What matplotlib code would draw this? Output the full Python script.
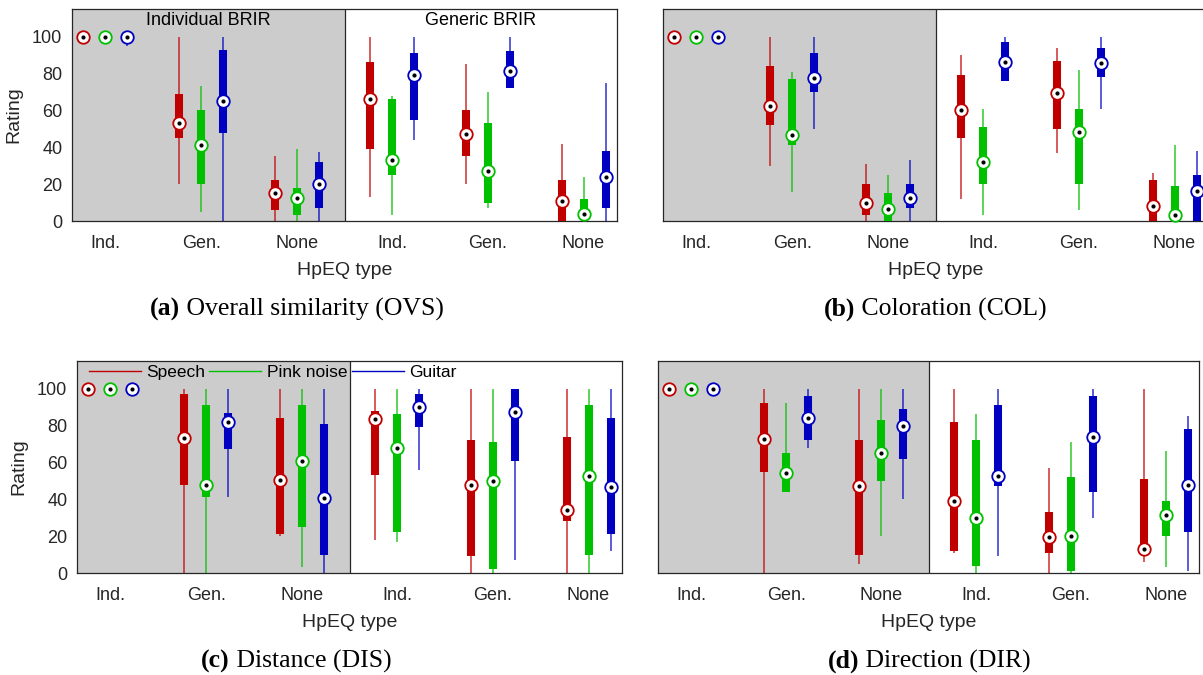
"""
Listening test ratings per HpEQ type, individual vs generic BRIR.
"""

import matplotlib.pyplot as plt
from matplotlib.lines import Line2D
import matplotlib.transforms as mtransforms
import numpy as np

plt.rcParams['font.family'] = ['Liberation Sans', 'DejaVu Sans']

GROUPS = ["Ind.", "Gen.", "None", "Ind.", "Gen.", "None"]
STIMULI = ["Speech", "Pink noise", "Guitar"]
COLORS = ["#c00000", "#00c000", "#0000c0"]
Y_TICKS = [0, 20, 40, 60, 80, 100]

# one row per group: (whisker low, q1, median, q3, whisker high)
# first three groups = individual BRIR, last three = generic BRIR
OVS_SPEECH = [(100, 100, 100, 100, 100), (20, 45, 53, 69, 100), (0, 6, 15, 22, 35),
              (13, 39, 66, 86, 100), (20, 35, 47, 60, 85), (0, 0, 11, 22, 42)]
OVS_PINK = [(100, 100, 100, 100, 100), (5, 20, 41, 60, 73), (0, 3, 12.5, 18, 39),
            (3, 25, 33, 66, 68), (7, 10, 27, 53, 70), (0, 1, 4, 12, 24)]
OVS_GUITAR = [(95, 97, 100, 100, 100), (0, 48, 65, 93, 100), (0, 7, 20, 32, 37.5),
              (44, 55, 79, 91, 100), (72, 72, 81.5, 92, 100), (0, 7, 24, 38, 75)]

COL_SPEECH = [(100, 100, 100, 100, 100), (30, 52, 62.5, 84, 100), (0, 3, 9.5, 20, 31),
              (12, 45, 60, 79, 90), (37, 50, 69.5, 87, 94), (0, 0, 8, 22, 26)]
COL_PINK = [(100, 100, 100, 100, 100), (16, 41, 46.5, 77, 81), (0, 0, 6.5, 15, 25),
            (3, 20, 32, 51, 61), (6, 20, 48.5, 61, 82), (0, 0, 3, 19, 41)]
COL_GUITAR = [(100, 100, 100, 100, 100), (50, 70, 77.5, 91, 100), (0, 7, 12.5, 20, 33),
              (76, 76, 86, 97, 100), (61, 78, 85.5, 94, 100), (0, 0, 16.5, 25, 38)]

DIS_SPEECH = [(100, 100, 100, 100, 100), (0, 48, 73, 97, 100), (20, 21, 50.5, 84, 100),
              (18, 53, 83.5, 88, 100), (0, 9, 47.5, 72, 100), (0, 28, 34, 74, 100)]
DIS_PINK = [(100, 100, 100, 100, 100), (0, 41, 47.5, 91, 100), (3, 25, 61, 91, 100),
            (17, 22, 68, 86, 100), (0, 2, 50, 71, 100), (0, 10, 52.5, 91, 100)]
DIS_GUITAR = [(100, 100, 100, 100, 100), (41, 67, 82, 87, 100), (0, 10, 40.5, 81, 100),
              (56, 79, 90, 97, 100), (7, 61, 87.5, 100, 100), (12, 21, 46.5, 84, 100)]

DIR_SPEECH = [(100, 100, 100, 100, 100), (0, 55, 72.5, 92, 100), (5, 10, 47, 72, 100),
              (11, 12, 39, 82, 100), (0, 11, 19.5, 33, 57), (6, 10, 13, 51, 100)]
DIR_PINK = [(100, 100, 100, 100, 100), (44, 44, 54.5, 65, 92), (20, 50, 65, 83, 100),
            (0, 4, 30, 72, 86), (0, 1, 20, 52, 71), (3, 20, 31.5, 39, 66)]
DIR_GUITAR = [(100, 100, 100, 100, 100), (68, 72, 84, 96, 100), (40, 62, 80, 89, 100),
              (9, 47, 52.5, 91, 100), (30, 44, 74, 96, 100), (1, 22, 48, 78, 85)]

X_LIM = (0.65, 6.35)
Y_LIM = (0, 115)
SPLIT = 3.5
OFFSET = 0.23
TEXT_COLOR = "#262626"


def draw_panel(ax, series_list, show_y):
    ax.set_facecolor("white")
    ax.axvspan(X_LIM[0], SPLIT, color="#cccccc", zorder=0, lw=0)
    ax.axvline(SPLIT, color=TEXT_COLOR, lw=0.9, zorder=1)

    x = np.arange(1, len(GROUPS) + 1)
    for k, (series, color) in enumerate(zip(series_list, COLORS)):
        s = np.array(series, dtype=float)
        xs = x + (k - 1) * OFFSET
        ax.vlines(xs, s[:, 0], s[:, 4], color=color, lw=1.2, alpha=0.75, zorder=2)
        ax.vlines(xs, s[:, 1], s[:, 3], color=color, lw=5.8, capstyle="butt", zorder=3)
        ax.plot(xs, s[:, 2], "o", ms=9, mfc="white", mec=color, mew=1.3, zorder=4,
                clip_on=False)
        ax.plot(xs, s[:, 2], "o", ms=3, color="black", mew=0, zorder=5, clip_on=False)

    ax.set_xlim(*X_LIM)
    ax.set_ylim(*Y_LIM)
    ax.set_xticks(x)
    ax.set_xticklabels(GROUPS)
    ax.set_yticks(Y_TICKS)
    ax.tick_params(axis="x", length=0, labelsize=13, colors=TEXT_COLOR, pad=10)
    ax.tick_params(axis="y", length=0, labelsize=13, colors=TEXT_COLOR, pad=7)
    ax.set_xlabel("HpEQ type", fontsize=14, color=TEXT_COLOR, labelpad=7)
    if show_y:
        ax.set_ylabel("Rating", fontsize=14, color=TEXT_COLOR, labelpad=7)
    else:
        ax.tick_params(labelleft=False)
    for sp in ax.spines.values():
        sp.set_color(TEXT_COLOR)
        sp.set_linewidth(0.9)


def add_caption(fig, xc, y, tag, text):
    t1 = fig.text(0, y, tag, fontsize=18.5, fontweight="bold", va="center",
                  family=["Liberation Serif", "DejaVu Serif"])
    t2 = fig.text(0, y, " " + text, fontsize=18.5, va="center",
                  family=["Liberation Serif", "DejaVu Serif"])
    r = fig.canvas.get_renderer()
    w1 = t1.get_window_extent(r).width / fig.bbox.width
    w2 = t2.get_window_extent(r).width / fig.bbox.width
    left = xc - (w1 + w2) / 2
    t1.set_x(left)
    t2.set_x(left + w1)


fig = plt.figure(figsize=(12.03, 6.75), dpi=100)
h = 212 / 675
ax_a = fig.add_axes([72 / 1203, 1 - 221 / 675, 545 / 1203, h])
ax_b = fig.add_axes([663 / 1203, 1 - 221 / 675, 545 / 1203, h])
ax_c = fig.add_axes([77 / 1203, 1 - 573 / 675, 545 / 1203, h])
ax_d = fig.add_axes([658 / 1203, 1 - 573 / 675, 541 / 1203, h])

draw_panel(ax_a, [OVS_SPEECH, OVS_PINK, OVS_GUITAR], True)
draw_panel(ax_b, [COL_SPEECH, COL_PINK, COL_GUITAR], False)
draw_panel(ax_c, [DIS_SPEECH, DIS_PINK, DIS_GUITAR], True)
draw_panel(ax_d, [DIR_SPEECH, DIR_PINK, DIR_GUITAR], False)

# Half titles in panel (a).
trans = mtransforms.blended_transform_factory(ax_a.transData, ax_a.transAxes)
ax_a.text((X_LIM[0] + SPLIT) / 2, 0.985, "Individual BRIR", transform=trans,
          ha="center", va="top", fontsize=13, color="black")
ax_a.text((SPLIT + X_LIM[1]) / 2, 0.985, "Generic BRIR", transform=trans,
          ha="center", va="top", fontsize=13, color="black")

# Stimulus legend in panel (c).
handles = [Line2D([], [], color=c, lw=1) for c in COLORS]
ax_c.legend(handles, STIMULI, loc="upper left", bbox_to_anchor=(10 / 545, 0.99),
            ncol=3, frameon=False, fontsize=12.5, handlelength=3.0, handletextpad=0.3,
            columnspacing=0.25, borderaxespad=0.0, borderpad=0.1)

add_caption(fig, 297 / 1203, 1 - 309 / 675, "(a)", "Overall similarity (OVS)")
add_caption(fig, 935 / 1203, 1 - 309 / 675, "(b)", "Coloration (COL)")
add_caption(fig, 296 / 1203, 1 - 661 / 675, "(c)", "Distance (DIS)")
add_caption(fig, 929 / 1203, 1 - 661 / 675, "(d)", "Direction (DIR)")

plt.savefig("out.png", dpi=100)
